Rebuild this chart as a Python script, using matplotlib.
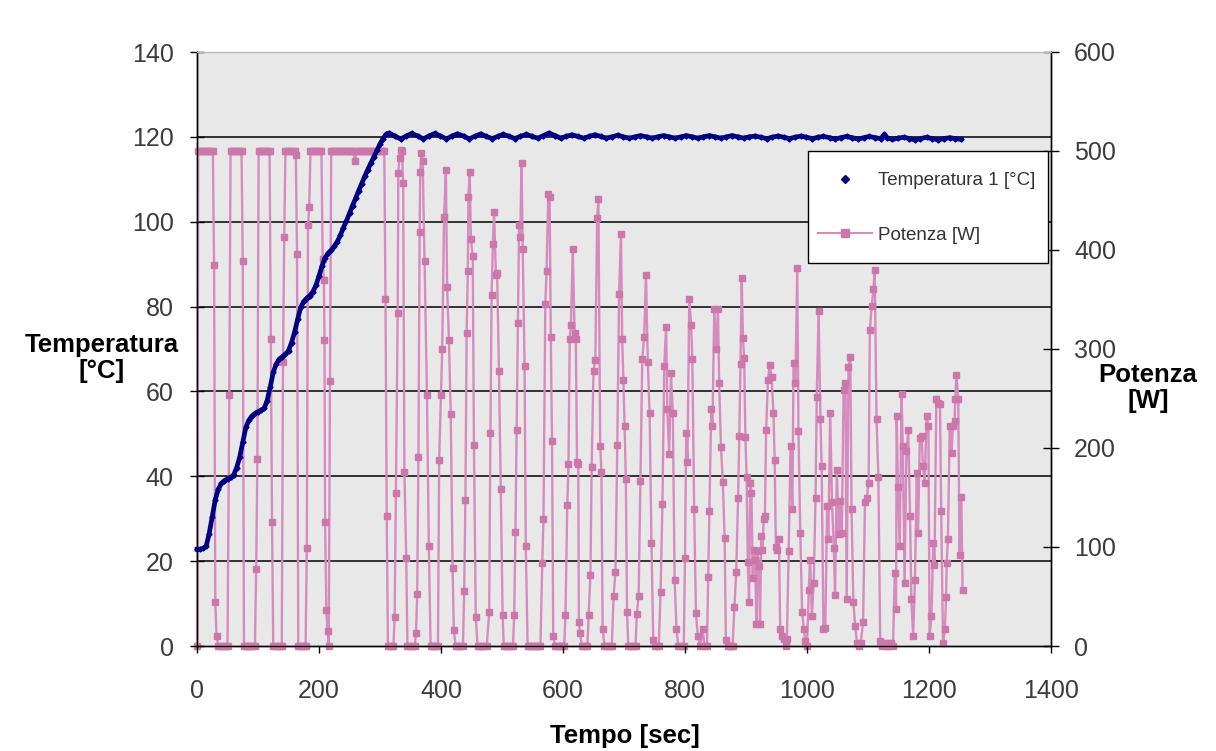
import matplotlib
matplotlib.use("Agg")
import matplotlib.pyplot as plt
from matplotlib.lines import Line2D
from matplotlib.patches import Rectangle

plt.rcParams.update({"font.family": ["Liberation Sans", "DejaVu Sans"]})

# ---- palette ----
NAVY = "#000080"
PINK_M, PINK_L = "#cc77aa", "#d68bbf"
PLOT_BG = "#e8e8e8"
TICK_C = "#3c3c3c"

# ---- data ----
# temperature 1 [degC] vs time [s]
temp_t = [0, 5, 10, 15, 20, 25, 30, 35, 40, 45, 50, 55, 60, 65, 70, 75, 80, 85, 90, 95,
          100, 105, 110, 115, 120, 125, 130, 135, 140, 145, 150, 155, 160, 165, 170, 175,
          180, 185, 190, 195, 200, 205, 210, 215, 220, 225, 230, 235, 240, 245, 250, 255,
          260, 265, 270, 275, 280, 285, 290, 295, 300, 305, 310,
          315, 324, 334, 343, 352, 362, 371, 380, 390, 399, 409, 418, 427, 437, 446, 455,
          465, 474, 484, 493, 502, 512, 521, 530, 540, 549, 559, 568, 577, 587, 596, 605,
          615, 624, 634, 643, 652, 662, 671, 680, 690, 699, 709, 718, 727, 737, 746, 755,
          765, 774, 784, 793, 802, 812, 821, 830, 840, 849, 859, 868, 877, 887, 896, 905,
          915, 924, 934, 943, 952, 962, 971, 980, 990, 999, 1009, 1018, 1027, 1037, 1046,
          1055, 1065, 1074, 1084, 1093, 1102, 1112, 1121, 1127, 1131, 1140, 1149, 1159,
          1168, 1177, 1186, 1196, 1205, 1215, 1224, 1234, 1243, 1252]
temp_c = [22.8, 22.8, 23.0, 23.5, 26.5, 30.5, 34.5, 37.0, 38.3, 39.0, 39.4, 39.8, 40.3,
          42.0, 44.5, 48.0, 51.5, 53.2, 54.2, 54.8, 55.2, 55.6, 56.0, 57.8, 61.0, 64.5,
          66.5, 67.6, 68.2, 68.8, 69.6, 71.5, 74.0, 77.0, 79.8, 81.2, 82.0, 82.6, 83.5,
          85.0, 87.2, 89.6, 91.5, 92.6, 93.3, 94.2, 95.3, 96.8, 98.6, 100.2, 102.0, 103.8,
          105.5, 107.3, 109.0, 110.7, 112.3, 113.8, 115.3, 116.8, 118.3, 119.6, 120.6,
          120.9, 120.2, 119.5, 120.2, 120.8, 120.2, 119.5, 120.2, 120.8, 120.2, 119.5, 120.2,
          120.7, 120.2, 119.5, 120.1, 120.7, 120.1, 119.6, 120.1, 120.6, 120.1, 119.6, 120.1,
          120.6, 120.1, 119.7, 120.3, 120.9, 120.3, 119.7, 120.1, 120.5, 120.1, 119.7, 120.1,
          120.5, 120.1, 119.7, 120.0, 120.4, 120.0, 119.7, 120.0, 120.3, 120.0, 119.7, 120.0,
          120.3, 120.0, 119.7, 120.0, 120.3, 120.0, 119.7, 120.0, 120.3, 120.0, 119.7, 120.0,
          120.3, 120.0, 119.7, 120.0, 120.2, 119.9, 119.6, 119.9, 120.2, 119.9, 119.6, 119.9,
          120.2, 119.9, 119.6, 119.9, 120.1, 119.8, 119.5, 119.8, 120.1, 119.8, 119.5, 119.8,
          120.1, 119.8, 119.6, 120.6, 119.8, 119.4, 119.7, 119.9, 119.6, 119.3, 119.6, 119.9,
          119.6, 119.3, 119.6, 119.8, 119.6, 119.4]

# heater power [W] vs time [s]
power_t = [0, 2, 5, 8, 11, 14, 17, 20, 23, 26, 28, 30, 32, 35, 38, 41, 44, 47, 50,
           53, 55, 58, 61, 64, 67, 70, 73, 75, 77, 80, 83, 86, 89, 92, 95,
           97, 99, 101, 104, 107, 110, 113, 116, 119, 121, 123, 125, 128, 131, 134, 137, 139,
           141, 143, 145, 148, 151, 154, 157, 160, 162, 164, 166, 169, 172, 175, 178,
           180, 182, 184, 186, 189, 192, 195, 198, 201, 204, 206, 208, 209, 210, 212, 214, 216,
           218, 220, 223, 226, 229, 232, 235, 238, 241, 244, 247, 250, 253, 256, 259, 262,
           265, 268, 271, 274, 277, 280, 283, 286, 289, 292, 295, 298, 301, 304, 307,
           309, 311, 313, 316, 319, 322,
           324, 326, 329, 330, 332, 334, 336, 338, 340, 343, 345, 348, 351, 354, 357,
           359, 361, 363, 365, 366, 368, 370, 373, 377, 380, 383, 386, 389, 392, 395,
           397, 400, 402, 405, 408, 410, 413, 416, 419, 421, 424, 427, 430, 433, 436,
           438, 440, 442, 444, 445, 447, 449, 452, 454, 457, 460, 463, 466, 469, 472, 475,
           479, 481, 483, 485, 487, 490, 492, 495, 498, 501, 503, 506, 509, 512, 515, 518,
           520, 522, 524, 526, 528, 530, 532, 534, 537, 539, 542, 545, 548, 551, 554, 557, 560, 563,
           566, 568, 571, 573, 576, 578, 580, 582, 584, 587, 590, 593, 596, 599,
           602, 604, 607, 609, 611, 613, 616, 619, 621, 623, 625, 626, 628, 631, 634, 637, 640,
           642, 645, 647, 650, 653, 656, 658, 661, 663, 665, 668, 671, 674, 677, 680,
           683, 686, 689, 692, 695, 697, 699, 701, 703, 705, 707, 710, 713, 716,
           719, 721, 724, 727, 730, 733, 736, 739, 742, 745, 748, 751, 754, 757,
           760, 763, 766, 769, 771, 774, 777, 780, 783, 786, 789, 792, 795,
           798, 800, 802, 804, 807, 810, 812, 815, 818, 821, 825, 829, 832,
           836, 838, 840, 843, 845, 848, 851, 854, 856, 859, 862, 865, 867, 870, 873, 876,
           878, 881, 884, 887, 889, 891, 893, 895, 897, 899, 901,
           903, 905, 907, 909, 911, 913, 915, 917, 919, 921, 923, 925, 927, 929, 931, 933,
           936, 939, 942, 945, 947, 949, 951, 954, 956, 959, 962, 965, 967, 970, 973, 976,
           978, 981, 984, 986, 989, 992, 995, 997, 1000, 1003, 1005, 1008, 1011, 1014, 1016,
           1019, 1022, 1024, 1027, 1030, 1033, 1035, 1038, 1041, 1044, 1046, 1049, 1052,
           1054, 1057, 1060, 1063, 1065, 1068, 1071, 1073, 1076, 1079, 1082, 1085, 1088,
           1092, 1095, 1098, 1101, 1103, 1106, 1109, 1111, 1114, 1117, 1120, 1123, 1126,
           1129, 1132, 1135, 1138, 1141, 1144, 1146, 1147, 1149, 1152, 1155, 1157, 1160,
           1163, 1166, 1169, 1171, 1174, 1177, 1180, 1182, 1185, 1188, 1190, 1193, 1196,
           1199, 1201, 1204, 1207, 1209, 1212, 1215, 1218, 1220, 1223, 1226, 1228, 1229,
           1231, 1234, 1237, 1239, 1242, 1243, 1245, 1248, 1250, 1253, 1255]
power_w = [0, 500, 500, 500, 500, 500, 500, 500, 500, 500, 385, 44, 10, 0, 0, 0, 0, 0, 0,
           254, 500, 500, 500, 500, 500, 500, 500, 389, 0, 0, 0, 0, 0, 0, 0,
           78, 189, 500, 500, 500, 500, 500, 500, 500, 310, 125, 0, 0, 0, 0, 0, 0,
           287, 413, 500, 500, 500, 500, 500, 500, 496, 396, 0, 0, 0, 0, 0,
           99, 425, 443, 500, 500, 500, 500, 500, 500, 500, 391, 370, 309, 125, 36, 15, 0,
           268, 500, 500, 500, 500, 500, 500, 500, 500, 500, 500, 500, 500, 500, 490, 500,
           500, 500, 500, 500, 500, 500, 500, 500, 500, 500, 500, 500, 500, 500, 500,
           351, 131, 0, 0, 0, 0,
           29, 155, 336, 478, 493, 501, 500, 468, 176, 89, 0, 0, 0, 0, 0,
           13, 53, 191, 418, 479, 498, 490, 389, 254, 101, 0, 0, 0, 0, 0,
           188, 254, 300, 433, 481, 363, 309, 234, 79, 16, 0, 0, 0, 0, 0,
           56, 147, 316, 379, 454, 479, 411, 394, 203, 29, 0, 0, 0, 0, 0, 0,
           34, 215, 355, 406, 438, 375, 377, 278, 159, 31, 0, 0, 0, 0, 0, 0,
           31, 115, 218, 326, 425, 413, 488, 401, 283, 101, 0, 0, 0, 0, 0, 0, 0, 0,
           84, 128, 345, 379, 457, 454, 312, 207, 10, 0, 0, 0, 0, 0,
           0, 31, 142, 184, 310, 324, 401, 316, 310, 186, 184, 24, 13, 0, 0, 0, 0,
           31, 72, 181, 278, 289, 432, 452, 202, 176, 17, 0, 0, 0, 0, 0,
           51, 75, 203, 356, 416, 310, 269, 222, 169, 34, 0, 0, 0, 0,
           0, 32, 51, 167, 290, 312, 375, 287, 235, 104, 6, 0, 0, 0,
           55, 143, 283, 322, 239, 194, 276, 235, 67, 17, 0, 0, 0,
           0, 89, 215, 186, 351, 324, 290, 138, 33, 10, 0, 17, 0,
           0, 70, 136, 239, 222, 340, 300, 340, 266, 201, 166, 109, 6, 0, 0, 0,
           0, 39, 75, 150, 212, 285, 372, 311, 291, 211, 171,
           85, 44, 165, 155, 69, 97, 87, 22, 96, 81, 22, 111, 97, 128, 131, 218,
           269, 284, 272, 235, 188, 100, 97, 108, 17, 10, 7, 0, 7, 96, 202, 138,
           286, 266, 382, 217, 114, 34, 17, 5, 0, 57, 87, 30, 64, 150, 252,
           338, 229, 182, 17, 18, 141, 108, 235, 145, 99, 52, 178, 113,
           146, 114, 259, 266, 47, 282, 292, 138, 44, 20, 3, 0, 3,
           24, 145, 150, 165, 319, 343, 361, 380, 229, 171, 5, 0, 3,
           0, 3, 0, 3, 0, 74, 37, 232, 161, 101, 255, 202, 64,
           197, 218, 131, 47, 10, 67, 175, 114, 210, 212, 182, 165, 232,
           222, 10, 30, 104, 82, 249, 245, 244, 136, 3, 17, 49, 84,
           108, 222, 195, 222, 227, 249, 274, 249, 92, 151, 57]

x_ticks = [0, 200, 400, 600, 800, 1000, 1200, 1400]
temp_ticks = [0, 20, 40, 60, 80, 100, 120, 140]
power_ticks = [0, 100, 200, 300, 400, 500, 600]

W, H = 1216, 751
fig = plt.figure(figsize=(W / 100, H / 100), dpi=100)
L, R, T, B = 197, 1051, 52, 646
ax_t = fig.add_axes([L / W, 1 - B / H, (R - L) / W, (B - T) / H])
ax_p = ax_t.twinx()

# temperature axes on top, power axes behind (carries the grey plot area)
ax_t.set_zorder(ax_p.get_zorder() + 1)
ax_t.patch.set_visible(False)
ax_p.patch.set_visible(True)
ax_p.patch.set_facecolor(PLOT_BG)

ax_t.set_xlim(x_ticks[0], x_ticks[-1])
ax_t.set_ylim(temp_ticks[0], temp_ticks[-1])
ax_p.set_ylim(power_ticks[0], power_ticks[-1])

# horizontal gridlines (drawn behind the power series)
for tv in temp_ticks[1:-1]:
    ax_p.axhline(tv / temp_ticks[-1] * power_ticks[-1], color="black", lw=1.1, zorder=1)

ax_p.plot(power_t, power_w, color=PINK_L, lw=1.7, marker="s", ms=5,
          mfc=PINK_M, mec=PINK_M, clip_on=False, zorder=3)
ax_t.plot(temp_t, temp_c, color=NAVY, lw=3.4, marker="D", ms=2.6,
          mfc=NAVY, mec=NAVY, clip_on=False, zorder=3)

ax_t.set_xticks(x_ticks)
ax_t.set_yticks(temp_ticks)
ax_p.set_yticks(power_ticks)

for ax in (ax_t, ax_p):
    for side in ("left", "right", "bottom"):
        ax.spines[side].set_color("black")
        ax.spines[side].set_linewidth(1.0)
    ax.spines["top"].set_color("#b5b5b5")

ax_t.tick_params(axis="y", direction="inout", length=9.5, width=1, pad=12,
                 labelsize=18, labelcolor=TICK_C)
ax_t.tick_params(axis="x", direction="out", length=5, width=1, pad=19,
                 labelsize=18, labelcolor=TICK_C)
ax_p.tick_params(axis="y", direction="inout", length=11, width=1, pad=11,
                 labelsize=18, labelcolor=TICK_C)

# axis titles
fig.text(625 / W, 1 - 736 / H, "Tempo [sec]", ha="center", va="center",
         fontsize=18.5, fontweight="bold")
fig.text(102 / W, 1 - 358 / H, "Temperatura\n[°C]", ha="center", va="center",
         fontsize=18.5, fontweight="bold", linespacing=1.1)
fig.text(1148 / W, 1 - 388 / H, "Potenza\n[W]", ha="center", va="center",
         fontsize=18.5, fontweight="bold", linespacing=1.1)

# legend box
ax_t.add_patch(Rectangle(((808 - L) / (R - L), (B - 263) / (B - T)),
                         (1048 - 808) / (R - L), (263 - 151) / (B - T),
                         transform=ax_t.transAxes, fc="white", ec="black", lw=1.0,
                         zorder=4, clip_on=False))
handles = [Line2D([], [], ls="none", marker="D", ms=4.5, color=NAVY),
           Line2D([], [], color=PINK_L, lw=1.5, marker="s", ms=5.5, mfc=PINK_M, mec=PINK_M)]
leg = ax_t.legend(handles, ["Temperatura 1 [°C]", "Potenza [W]"],
                  loc="center left", bbox_to_anchor=((818 - L) / (R - L), (B - 208) / (B - T)),
                  frameon=False, fontsize=13.5, handlelength=2.9, handletextpad=0.3,
                  labelspacing=2.0, borderpad=0, borderaxespad=0)
leg.set_zorder(5)
for txt in leg.get_texts():
    txt.set_color("#333333")

fig.savefig("out.png", dpi=100, facecolor="white")
